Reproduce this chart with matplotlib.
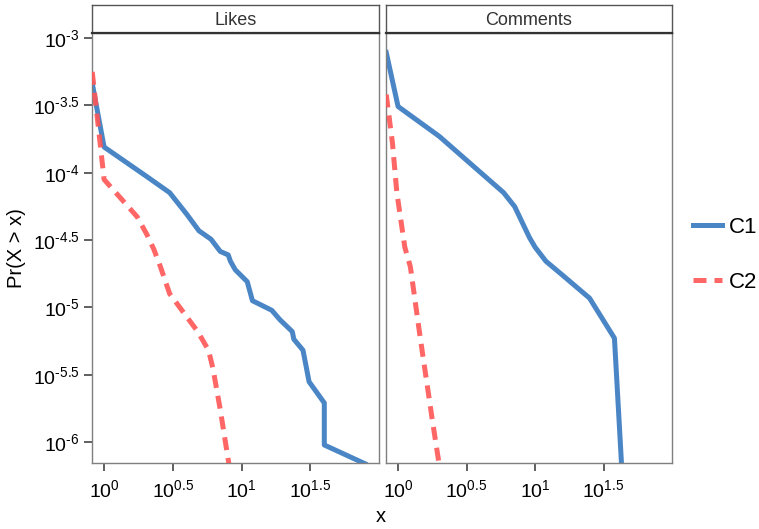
import matplotlib
matplotlib.use('Agg')
import matplotlib.pyplot as plt
from matplotlib.lines import Line2D
from matplotlib.ticker import FixedLocator, FixedFormatter

plt.rcParams['font.family'] = ['Liberation Sans', 'DejaVu Sans']
plt.rcParams['mathtext.fontset'] = 'custom'
plt.rcParams['mathtext.rm'] = 'Liberation Sans'
plt.rcParams['mathtext.it'] = 'Liberation Sans'

panels = ['Likes', 'Comments']
series = ['C1', 'C2']

# Likes
likes_c1_x = [0.82, 1, 2.0, 3.0, 4.0, 4.9, 6.0, 7.0, 8.0, 8.3, 9.0, 11, 12, 16.6, 19, 23.4, 24, 28, 31, 40, 40, 79]
likes_c1_y = [4.6e-4, 1.55e-4, 9.5e-5, 7.1e-5, 4.9e-5, 3.7e-5, 3.2e-5, 2.6e-5, 2.45e-5, 2.2e-5, 1.9e-5,
              1.55e-5, 1.12e-5, 9.5e-6, 8.1e-6, 6.6e-6, 5.8e-6, 4.8e-6, 2.8e-6, 1.95e-6, 9.5e-7, 6.9e-7]
likes_c2_x = [0.82, 1, 1.35, 1.74, 2.04, 2.3, 2.57, 3.0, 3.55, 4.8, 5.75, 6.2, 7.0, 8.2]
likes_c2_y = [5.6e-4, 8.9e-5, 6.3e-5, 4.7e-5, 3.5e-5, 2.7e-5, 2.0e-5, 1.26e-5, 1.0e-5, 6.6e-6, 4.8e-6,
              3.5e-6, 1.74e-6, 6.3e-7]

# Comments
comments_c1_x = [0.82, 1, 2.0, 5.9, 7.1, 9.1, 10, 12, 15.8, 25, 38, 43]
comments_c1_y = [7.8e-4, 3.1e-4, 1.86e-4, 7.1e-5, 5.6e-5, 3.3e-5, 2.8e-5, 2.2e-5, 1.74e-5, 1.17e-5, 5.9e-6, 6.3e-7]
comments_c2_x = [0.82, 0.91, 0.98, 1.12, 1.23, 1.45, 1.78, 2.02]
comments_c2_y = [3.8e-4, 1.66e-4, 7.1e-5, 2.8e-5, 2.0e-5, 6.0e-6, 1.45e-6, 6.3e-7]

data = {
    'Likes': [(likes_c1_x, likes_c1_y), (likes_c2_x, likes_c2_y)],
    'Comments': [(comments_c1_x, comments_c1_y), (comments_c2_x, comments_c2_y)],
}

x_ticks = [1, 10**0.5, 10, 10**1.5]
x_labels = [r'$10^{0}$', r'$10^{0.5}$', r'$10^{1}$', r'$10^{1.5}$']
y_ticks = [1e-3, 10**-3.5, 1e-4, 10**-4.5, 1e-5, 10**-5.5, 1e-6]
y_labels = [r'$10^{\text{-3}}$', r'$10^{\text{-3.5}}$', r'$10^{\text{-4}}$', r'$10^{\text{-4.5}}$',
            r'$10^{\text{-5}}$', r'$10^{\text{-5.5}}$', r'$10^{\text{-6}}$']

blue = '#4A86C6'
red = '#FF5555'
frame = '#7f7f7f'

fig = plt.figure(figsize=(7.59, 5.29), dpi=100)
W, H = 759, 529
boxes = [(92, 379), (386, 672)]
top, bottom = 33, 463

for (x0, x1), name in zip(boxes, panels):
    ax = fig.add_axes([x0 / W, (H - bottom) / H, (x1 - x0) / W, (bottom - top) / H])
    (c1x, c1y), (c2x, c2y) = data[name]
    ax.plot(c1x, c1y, color=blue, lw=3.6, solid_joinstyle='round', zorder=2)
    ax.plot(c2x, c2y, color=red, lw=3.6, dashes=(2.6, 1.6), alpha=0.9, zorder=3)
    ax.set_xscale('log')
    ax.set_yscale('log')
    ax.set_xlim(10**-0.088, 10**2.0)
    ax.set_ylim(10**-6.156, 10**-2.963)
    ax.xaxis.set_major_locator(FixedLocator(x_ticks))
    ax.xaxis.set_major_formatter(FixedFormatter(x_labels))
    ax.xaxis.set_minor_locator(FixedLocator([]))
    ax.yaxis.set_minor_locator(FixedLocator([]))
    if name == 'Likes':
        ax.yaxis.set_major_locator(FixedLocator(y_ticks))
        ax.yaxis.set_major_formatter(FixedFormatter(y_labels))
        ax.set_ylabel('Pr(X > x)', fontsize=14.5, labelpad=5)
    else:
        ax.set_yticks([])
    for s in ax.spines.values():
        s.set_color(frame)
        s.set_linewidth(1.0)
    ax.tick_params(axis='both', length=6, width=1.2, color='#444444', labelsize=14, pad=3)
    ax.tick_params(axis='x', pad=6)

    # strip on top
    sax = fig.add_axes([x0 / W, (H - top) / H, (x1 - x0) / W, 28 / H])
    sax.set_xticks([])
    sax.set_yticks([])
    for s in sax.spines.values():
        s.set_color('#555555')
        s.set_linewidth(1.0)
    sax.spines['bottom'].set_linewidth(1.6)
    sax.spines['bottom'].set_color('#333333')
    sax.text(0.5, 0.45, name, ha='center', va='center', fontsize=13, color='#333333',
             transform=sax.transAxes)

fig.text(381 / W, 1 - 516 / H, 'x', ha='center', va='center', fontsize=14.5)

handles = [Line2D([], [], color=blue, lw=3.6),
           Line2D([], [], color=red, lw=3.6, dashes=(2.6, 1.6), alpha=0.9)]
fig.legend(handles, series, loc='center left', bbox_to_anchor=(689 / W, 1 - 255 / H),
           frameon=False, fontsize=16, handlelength=1.3, handletextpad=0.3, labelspacing=1.55,
           borderpad=0.2, borderaxespad=0)

fig.savefig('out.png', dpi=100)
